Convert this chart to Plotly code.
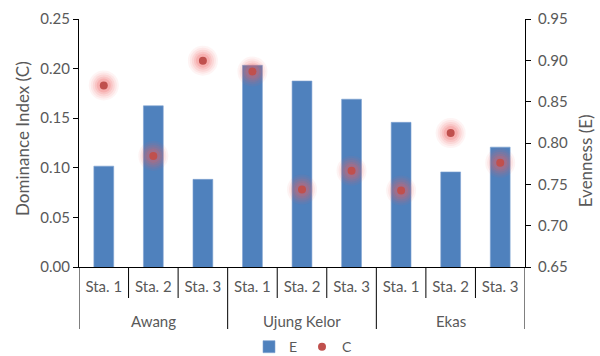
import plotly.graph_objects as go

sites = ["Awang", "Awang", "Awang",
         "Ujung Kelor", "Ujung Kelor", "Ujung Kelor",
         "Ekas", "Ekas", "Ekas"]
stations = ["Sta. 1", "Sta. 2", "Sta. 3"] * 3
evenness = [0.772, 0.845, 0.756, 0.894, 0.875, 0.853, 0.825, 0.765, 0.795]
dominance = [0.183, 0.112, 0.208, 0.197, 0.078, 0.097, 0.077, 0.135, 0.105]
groups = ["Awang", "Ujung Kelor", "Ekas"]

# one category per site/station pair, labelled by station only
cats = [f"{s} {t}" for s, t in zip(sites, stations)]

grey = "#595959"
font_family = "Lato, 'Open Sans', sans-serif"

fig = go.Figure()

# Evenness bars (right-hand axis)
fig.add_trace(go.Bar(
    x=cats, y=evenness, name="E", yaxis="y",
    marker=dict(color="#4F81BD", line=dict(color="#7FA3D1", width=0.6)),
))

# Soft glow around the dominance points
for size, op in [(30, 0.07), (26, 0.09), (22, 0.12), (18, 0.15), (14, 0.2)]:
    fig.add_trace(go.Scatter(
        x=cats, y=dominance, yaxis="y2", mode="markers", showlegend=False,
        hoverinfo="skip",
        marker=dict(size=size, color="#F06060", opacity=op, line=dict(width=0)),
    ))

fig.add_trace(go.Scatter(
    x=cats, y=dominance, name="C", yaxis="y2", mode="markers",
    marker=dict(size=8, color="#C0504D", line=dict(width=0)),
))

# Category separators below the axis: short between stations, long between sites
n = len(cats)
shapes = []
for i in range(n + 1):
    xpos = i - 0.5
    long_line = (i % 3 == 0)
    shapes.append(dict(
        type="line", xref="x", yref="paper",
        x0=xpos, x1=xpos, y0=0, y1=-0.25 if long_line else -0.125,
        line=dict(color="black", width=1),
    ))

annotations = []
for g_i, g in enumerate(groups):
    annotations.append(dict(
        text=g, xref="x", yref="paper", x=g_i * 3 + 1, y=-0.218,
        showarrow=False, yanchor="middle", xanchor="center",
        font=dict(size=15, color=grey),
    ))

# Axis titles
annotations.append(dict(
    text="Dominance Index (C)", xref="paper", yref="paper", x=-0.128, y=0.52,
    textangle=-90, showarrow=False, xanchor="center", yanchor="middle",
    font=dict(size=17, color=grey),
))
annotations.append(dict(
    text="Evenness (E)", xref="paper", yref="paper", x=1.135, y=0.427,
    textangle=-90, showarrow=False, xanchor="center", yanchor="middle",
    font=dict(size=17, color=grey),
))

fig.update_layout(
    width=600, height=356,
    margin=dict(l=79, r=75, t=19, b=89, autoexpand=False),
    paper_bgcolor="white", plot_bgcolor="white",
    font=dict(family=font_family, size=15, color=grey),
    bargap=0.6,
    showlegend=True,
    legend=dict(orientation="h", x=0.5, xanchor="center",
                yref="container", y=0.025, yanchor="middle",
                font=dict(size=14, color=grey), itemwidth=30,
                entrywidth=8, entrywidthmode="pixels", traceorder="normal"),
    shapes=shapes,
    annotations=annotations,
    xaxis=dict(
        type="category", categoryorder="array", categoryarray=cats,
        tickvals=cats, ticktext=stations,
        showline=True, linecolor="black", linewidth=1,
        ticks="", ticklabelstandoff=6,
        tickfont=dict(size=15, color=grey),
        showgrid=False, automargin=False,
        range=[-0.5, n - 0.5],
    ),
    yaxis=dict(
        side="right", range=[0.65, 0.95], tick0=0.65, dtick=0.05,
        tickformat=".2f",
        showline=True, linecolor="black", linewidth=1,
        ticks="outside", ticklen=5, tickcolor="black",
        showgrid=False, zeroline=False, automargin=False,
        tickfont=dict(size=15, color=grey), ticklabelstandoff=4,
    ),
    yaxis2=dict(
        overlaying="y", side="left", range=[0, 0.25], dtick=0.05,
        tickformat=".2f",
        showline=True, linecolor="black", linewidth=1,
        ticks="outside", ticklen=5, tickcolor="black",
        showgrid=False, zeroline=False, automargin=False,
        tickfont=dict(size=15, color=grey),
    ),
)

fig.write_html("out.html")
